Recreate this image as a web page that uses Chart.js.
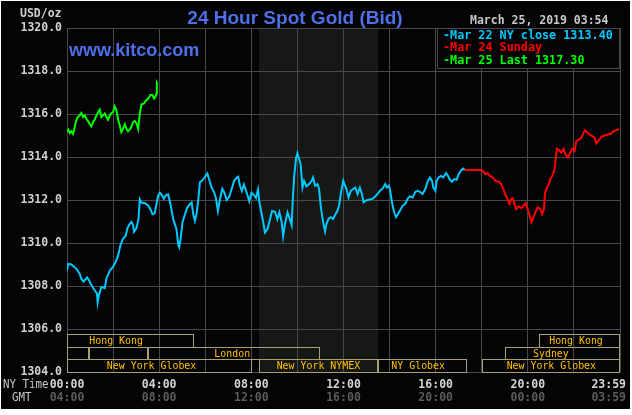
<!DOCTYPE html>
<html><head><meta charset="utf-8">
<script src="https://cdn.jsdelivr.net/npm/chart.js@4.4.1/dist/chart.umd.min.js"></script>
<style>html,body{margin:0;padding:0;background:#fff;overflow:hidden}canvas{display:block}</style>
</head><body><canvas id="c" width="632" height="415"></canvas>
<script>
// ---- data (hours after 00:00 NY time, USD/oz) ----
const cyanHours=[0,0.05,0.19,0.41,0.55,0.62,0.72,0.87,0.96,1.06,1.2,1.3,1.33,1.39,1.49,1.64,1.71,1.86,2.0,2.12,2.22,2.32,2.43,2.55,2.62,2.72,2.8,2.87,2.91,3.01,3.1,3.16,3.23,3.38,3.52,3.62,3.71,3.81,3.88,3.96,4.03,4.1,4.2,4.29,4.39,4.49,4.61,4.68,4.75,4.83,4.87,4.93,5.01,5.12,5.22,5.33,5.41,5.48,5.55,5.62,5.7,5.77,5.88,5.99,6.09,6.17,6.28,6.38,6.46,6.55,6.64,6.74,6.83,6.93,7.04,7.14,7.25,7.36,7.43,7.51,7.59,7.68,7.8,7.91,8.01,8.12,8.2,8.29,8.35,8.45,8.52,8.59,8.7,8.81,8.9,9.03,9.13,9.22,9.32,9.38,9.46,9.57,9.65,9.75,9.8,9.86,9.94,10.0,10.07,10.14,10.22,10.29,10.39,10.51,10.62,10.68,10.77,10.87,10.94,11.01,11.09,11.16,11.2,11.26,11.35,11.45,11.55,11.64,11.74,11.81,11.88,11.99,12.04,12.13,12.22,12.32,12.42,12.51,12.61,12.71,12.8,12.87,12.97,13.12,13.26,13.38,13.48,13.58,13.7,13.81,13.88,13.96,14.01,14.07,14.13,14.2,14.28,14.35,14.45,14.57,14.68,14.78,14.88,15.0,15.12,15.22,15.32,15.43,15.55,15.65,15.75,15.84,15.9,15.99,16.04,16.13,16.23,16.33,16.45,16.52,16.62,16.71,16.81,16.91,17.0,17.1,17.2,17.25];
const cyanValues=[1308.72,1309.03,1309.0,1308.8,1308.57,1308.34,1308.2,1308.4,1308.26,1308.03,1307.8,1307.65,1307.23,1307.6,1307.95,1307.9,1308.34,1308.72,1308.9,1309.14,1309.42,1309.9,1310.2,1310.34,1310.68,1310.88,1310.98,1310.83,1310.52,1310.68,1311.1,1312.03,1311.88,1311.85,1311.75,1311.57,1311.34,1311.38,1311.8,1312.22,1312.34,1312.26,1312.06,1312.22,1312.26,1311.8,1311.1,1310.88,1310.65,1309.9,1309.8,1310.18,1310.95,1311.34,1311.65,1311.8,1311.88,1311.34,1311.03,1311.34,1312.03,1312.83,1312.92,1313.08,1313.23,1312.95,1312.57,1312.37,1312.1,1311.49,1312.03,1312.52,1312.34,1312.0,1312.15,1312.49,1312.88,1313.03,1313.08,1312.65,1312.42,1312.72,1312.34,1311.95,1312.34,1312.22,1312.1,1312.49,1311.88,1311.34,1310.95,1310.49,1310.65,1311.1,1311.49,1311.45,1311.1,1311.42,1310.95,1310.31,1310.88,1311.42,1311.18,1310.83,1312.03,1313.11,1313.95,1314.18,1313.92,1313.66,1312.58,1312.89,1312.63,1312.74,1312.89,1313.05,1312.66,1312.74,1312.51,1311.74,1311.12,1310.74,1310.54,1310.89,1311.12,1311.2,1311.12,1311.31,1311.51,1311.74,1312.28,1312.89,1312.74,1312.51,1312.12,1312.43,1312.51,1312.58,1312.28,1312.58,1312.28,1311.89,1311.97,1312.02,1312.05,1312.17,1312.28,1312.43,1312.54,1312.74,1312.58,1312.66,1312.54,1312.12,1311.74,1311.43,1311.2,1311.31,1311.51,1311.74,1311.82,1312.05,1312.17,1312.12,1312.38,1312.43,1312.38,1312.28,1312.51,1312.85,1313.05,1312.89,1312.58,1312.43,1312.89,1313.05,1313.12,1313.05,1313.25,1313.15,1312.94,1312.85,1312.97,1312.94,1313.2,1313.38,1313.46,1313.4];
const redHours=[17.25,18.0,18.04,18.16,18.26,18.36,18.48,18.59,18.74,18.84,18.94,19.03,19.13,19.2,19.28,19.35,19.42,19.49,19.61,19.71,19.81,19.9,19.99,20.07,20.16,20.25,20.33,20.43,20.54,20.62,20.7,20.75,20.83,20.91,20.97,21.06,21.16,21.2,21.26,21.35,21.45,21.55,21.64,21.74,21.84,21.93,22.03,22.1,22.22,22.32,22.39,22.48,22.57,22.68,22.8,22.9,22.97,23.09,23.19,23.33,23.48,23.62,23.72,23.84,23.96];
const redValues=[1313.4,1313.4,1313.35,1313.2,1313.25,1313.12,1313.05,1312.89,1312.85,1312.74,1312.51,1312.23,1312.02,1311.82,1312.05,1312.08,1311.82,1311.58,1311.71,1311.62,1311.74,1311.86,1311.58,1311.31,1310.97,1311.2,1311.43,1311.66,1311.58,1311.35,1311.58,1312.35,1312.58,1312.74,1312.97,1313.12,1313.43,1313.82,1314.38,1314.32,1314.2,1314.38,1314.12,1313.97,1314.2,1314.38,1314.28,1314.74,1314.82,1314.89,1315.05,1315.25,1315.15,1315.05,1314.97,1314.89,1314.63,1314.78,1314.94,1315.0,1315.05,1315.09,1315.2,1315.25,1315.31];
const greenHours=[0,0.06,0.12,0.19,0.26,0.32,0.38,0.46,0.55,0.62,0.7,0.77,0.84,0.91,0.99,1.06,1.13,1.2,1.28,1.35,1.42,1.49,1.57,1.64,1.71,1.78,1.86,1.93,2.0,2.07,2.14,2.22,2.29,2.36,2.43,2.51,2.58,2.65,2.72,2.8,2.87,2.94,3.01,3.09,3.16,3.23,3.33,3.42,3.52,3.62,3.71,3.78,3.84,3.88,3.9,3.93];
const greenValues=[1315.16,1315.27,1315.11,1315.2,1315.08,1315.31,1315.63,1315.83,1315.94,1316.05,1315.86,1315.94,1315.78,1315.67,1315.52,1315.42,1315.63,1315.73,1315.94,1316.09,1316.2,1315.86,1315.94,1316.02,1315.86,1315.73,1315.94,1316.05,1316.09,1316.36,1316.2,1315.73,1315.47,1315.16,1315.31,1315.52,1315.31,1315.2,1315.27,1315.42,1315.63,1315.67,1315.58,1315.31,1316.02,1316.45,1316.48,1316.61,1316.72,1316.88,1316.88,1316.72,1316.8,1316.95,1317.45,1317.39];
const seriesLabels=['Mar 22 NY close 1313.40','Mar 24 Sunday','Mar 25 Last 1317.30'];
const nyTimeLabels=['00:00','04:00','08:00','12:00','16:00','20:00','23:59'];
const gmtLabels=['04:00','08:00','12:00','16:00','20:00','00:00','03:59'];
const labelHours=[0,4,8,12,16,20,24];
// market sessions: name, start hour, end hour, row, label hour
const sessionNames=['Hong Kong','Hong Kong','','','London','Sydney','New York Globex','New York NYMEX','NY Globex','New York Globex'];
const sessionStart=[0,20.5,0,0.97,3.5,19.0,0,8.333,13.5,18.0];
const sessionEnd=[5.5,24,0.97,3.5,11.0,24,8.05,13.5,17.35,24];
const sessionRow=[0,0,1,1,1,1,2,2,2,2];
const sessionLabelHour=[2.13,22.09,0,0,7.17,21.0,3.67,10.91,15.24,21.02];
const nymexStart=8.333, nymexEnd=13.5;

const toXY=(xs,ys)=>xs.map((h,i)=>({x:h,y:ys[i]}));
const GRID='#484848';
const MONO='"DejaVu Sans Mono", monospace';

const deco={
  id:'deco',
  beforeDraw(chart){
    const c=chart.ctx, a=chart.chartArea, xs=chart.scales.x;
    c.save();
    c.fillStyle='#ffffff'; c.fillRect(0,0,chart.width,chart.height);
    c.fillStyle='#040406'; c.fillRect(1,1,629,408);
    const x1=Math.round(xs.getPixelForValue(nymexStart)), x2=Math.round(xs.getPixelForValue(nymexEnd));
    c.fillStyle='#151815'; c.fillRect(x1,a.top,x2-x1,a.bottom-a.top);
    c.restore();
  },
  afterDraw(chart){
    const c=chart.ctx, a=chart.chartArea, xs=chart.scales.x;
    c.save();
    // sessions
    const rowH=38/3;
    c.lineWidth=1; c.strokeStyle='#a8a070';
    for(let i=0;i<sessionNames.length;i++){
      const x1=Math.round(xs.getPixelForValue(sessionStart[i]))+0.5;
      const x2=Math.round(xs.getPixelForValue(sessionEnd[i]))-0.5;
      const y1=Math.round(a.bottom-38+sessionRow[i]*rowH)+0.5;
      const y2=Math.round(a.bottom-38+(sessionRow[i]+1)*rowH)+0.5;
      c.strokeRect(x1,y1,x2-x1,y2-y1);
      if(sessionNames[i]){
        const lx=xs.getPixelForValue(sessionLabelHour[i]);
        c.save(); c.translate(lx,(y1+y2)/2+0.5); c.scale(0.9,1);
        c.font='11px '+MONO; c.fillStyle='#ffc000'; c.textAlign='center'; c.textBaseline='middle';
        c.fillText(sessionNames[i],0,0); c.restore();
      }
    }
    // x labels
    c.font='bold 11.5px '+MONO; c.textBaseline='middle'; c.textAlign='center';
    labelHours.forEach((h,i)=>{
      let px=xs.getPixelForValue(h);
      const w=c.measureText(nyTimeLabels[i]).width;
      px=Math.min(px,626-w/2);
      c.fillStyle='#d4d4d4'; c.fillText(nyTimeLabels[i],px,385);
      c.fillStyle='#5c5c5c'; c.fillText(gmtLabels[i],px,398.5);
    });
    c.save(); c.translate(3,385); c.scale(0.9,1); c.font='12px '+MONO; c.fillStyle='#c8c8c8'; c.textAlign='left';
    c.fillText('NY Time',0,0); c.restore();
    c.save(); c.translate(12,398); c.scale(0.9,1); c.font='12px '+MONO; c.fillStyle='#c8c8c8'; c.textAlign='left';
    c.fillText('GMT',0,0); c.restore();
    // unit
    c.font='bold 11.5px '+MONO; c.fillStyle='#d0d0d0'; c.textAlign='left';
    c.fillText('USD/oz',20,14.5);
    // date
    c.fillStyle='#c8c8c8'; c.fillText('March 25, 2019 03:54',470,21);
    // title
    c.font='bold 19px "Liberation Sans", Arial, sans-serif'; c.fillStyle='#4f6fe6'; c.textAlign='center'; c.textBaseline='alphabetic';
    c.fillText('24 Hour Spot Gold (Bid)',295,24);
    c.font='bold 18px "Liberation Sans", Arial, sans-serif'; c.textAlign='left';
    c.fillText('www.kitco.com',69,56);
    // legend box
    const lx1=437.5, ly1=a.top+0.5, lx2=a.right-0.5, ly2=68.5;
    c.fillStyle='#040406'; c.fillRect(lx1,ly1,lx2-lx1,ly2-ly1);
    c.strokeStyle=GRID; c.lineWidth=1; c.strokeRect(lx1,ly1,lx2-lx1,ly2-ly1);
    c.font='bold 11.75px '+MONO; c.textBaseline='middle';
    chart.data.datasets.forEach((ds,i)=>{
      c.fillStyle=ds.borderColor; c.fillText('-'+ds.label,443,35.5+i*12.5);
    });
    c.restore();
  }
};

new Chart(document.getElementById('c'),{
  type:'line',
  data:{datasets:[
    {label:seriesLabels[0],data:toXY(cyanHours,cyanValues),borderColor:'#00c8ff',borderWidth:2,pointRadius:0,tension:0},
    {label:seriesLabels[1],data:toXY(redHours,redValues),borderColor:'#ff0000',borderWidth:2,pointRadius:0,tension:0},
    {label:seriesLabels[2],data:toXY(greenHours,greenValues),borderColor:'#00ff00',borderWidth:2,pointRadius:0,tension:0}
  ]},
  options:{
    responsive:false,animation:false,devicePixelRatio:1,
    layout:{padding:{top:28,right:12,bottom:43,left:0}},
    plugins:{legend:{display:false},tooltip:{enabled:false},title:{display:false}},
    scales:{
      x:{type:'linear',min:0,max:24,
        ticks:{display:false,stepSize:2},
        grid:{color:GRID,lineWidth:1,drawTicks:false},border:{display:false}},
      y:{min:1304,max:1320,
        ticks:{stepSize:2,padding:5,color:'#d0d0d0',font:{family:'"DejaVu Sans Mono", monospace',size:11.5,weight:'bold'},callback:v=>v.toFixed(1)},
        grid:{color:GRID,lineWidth:1,drawTicks:false},border:{display:false},
        afterFit(s){s.width=67;}}
    }
  },
  plugins:[deco]
});
</script>
</body></html>
